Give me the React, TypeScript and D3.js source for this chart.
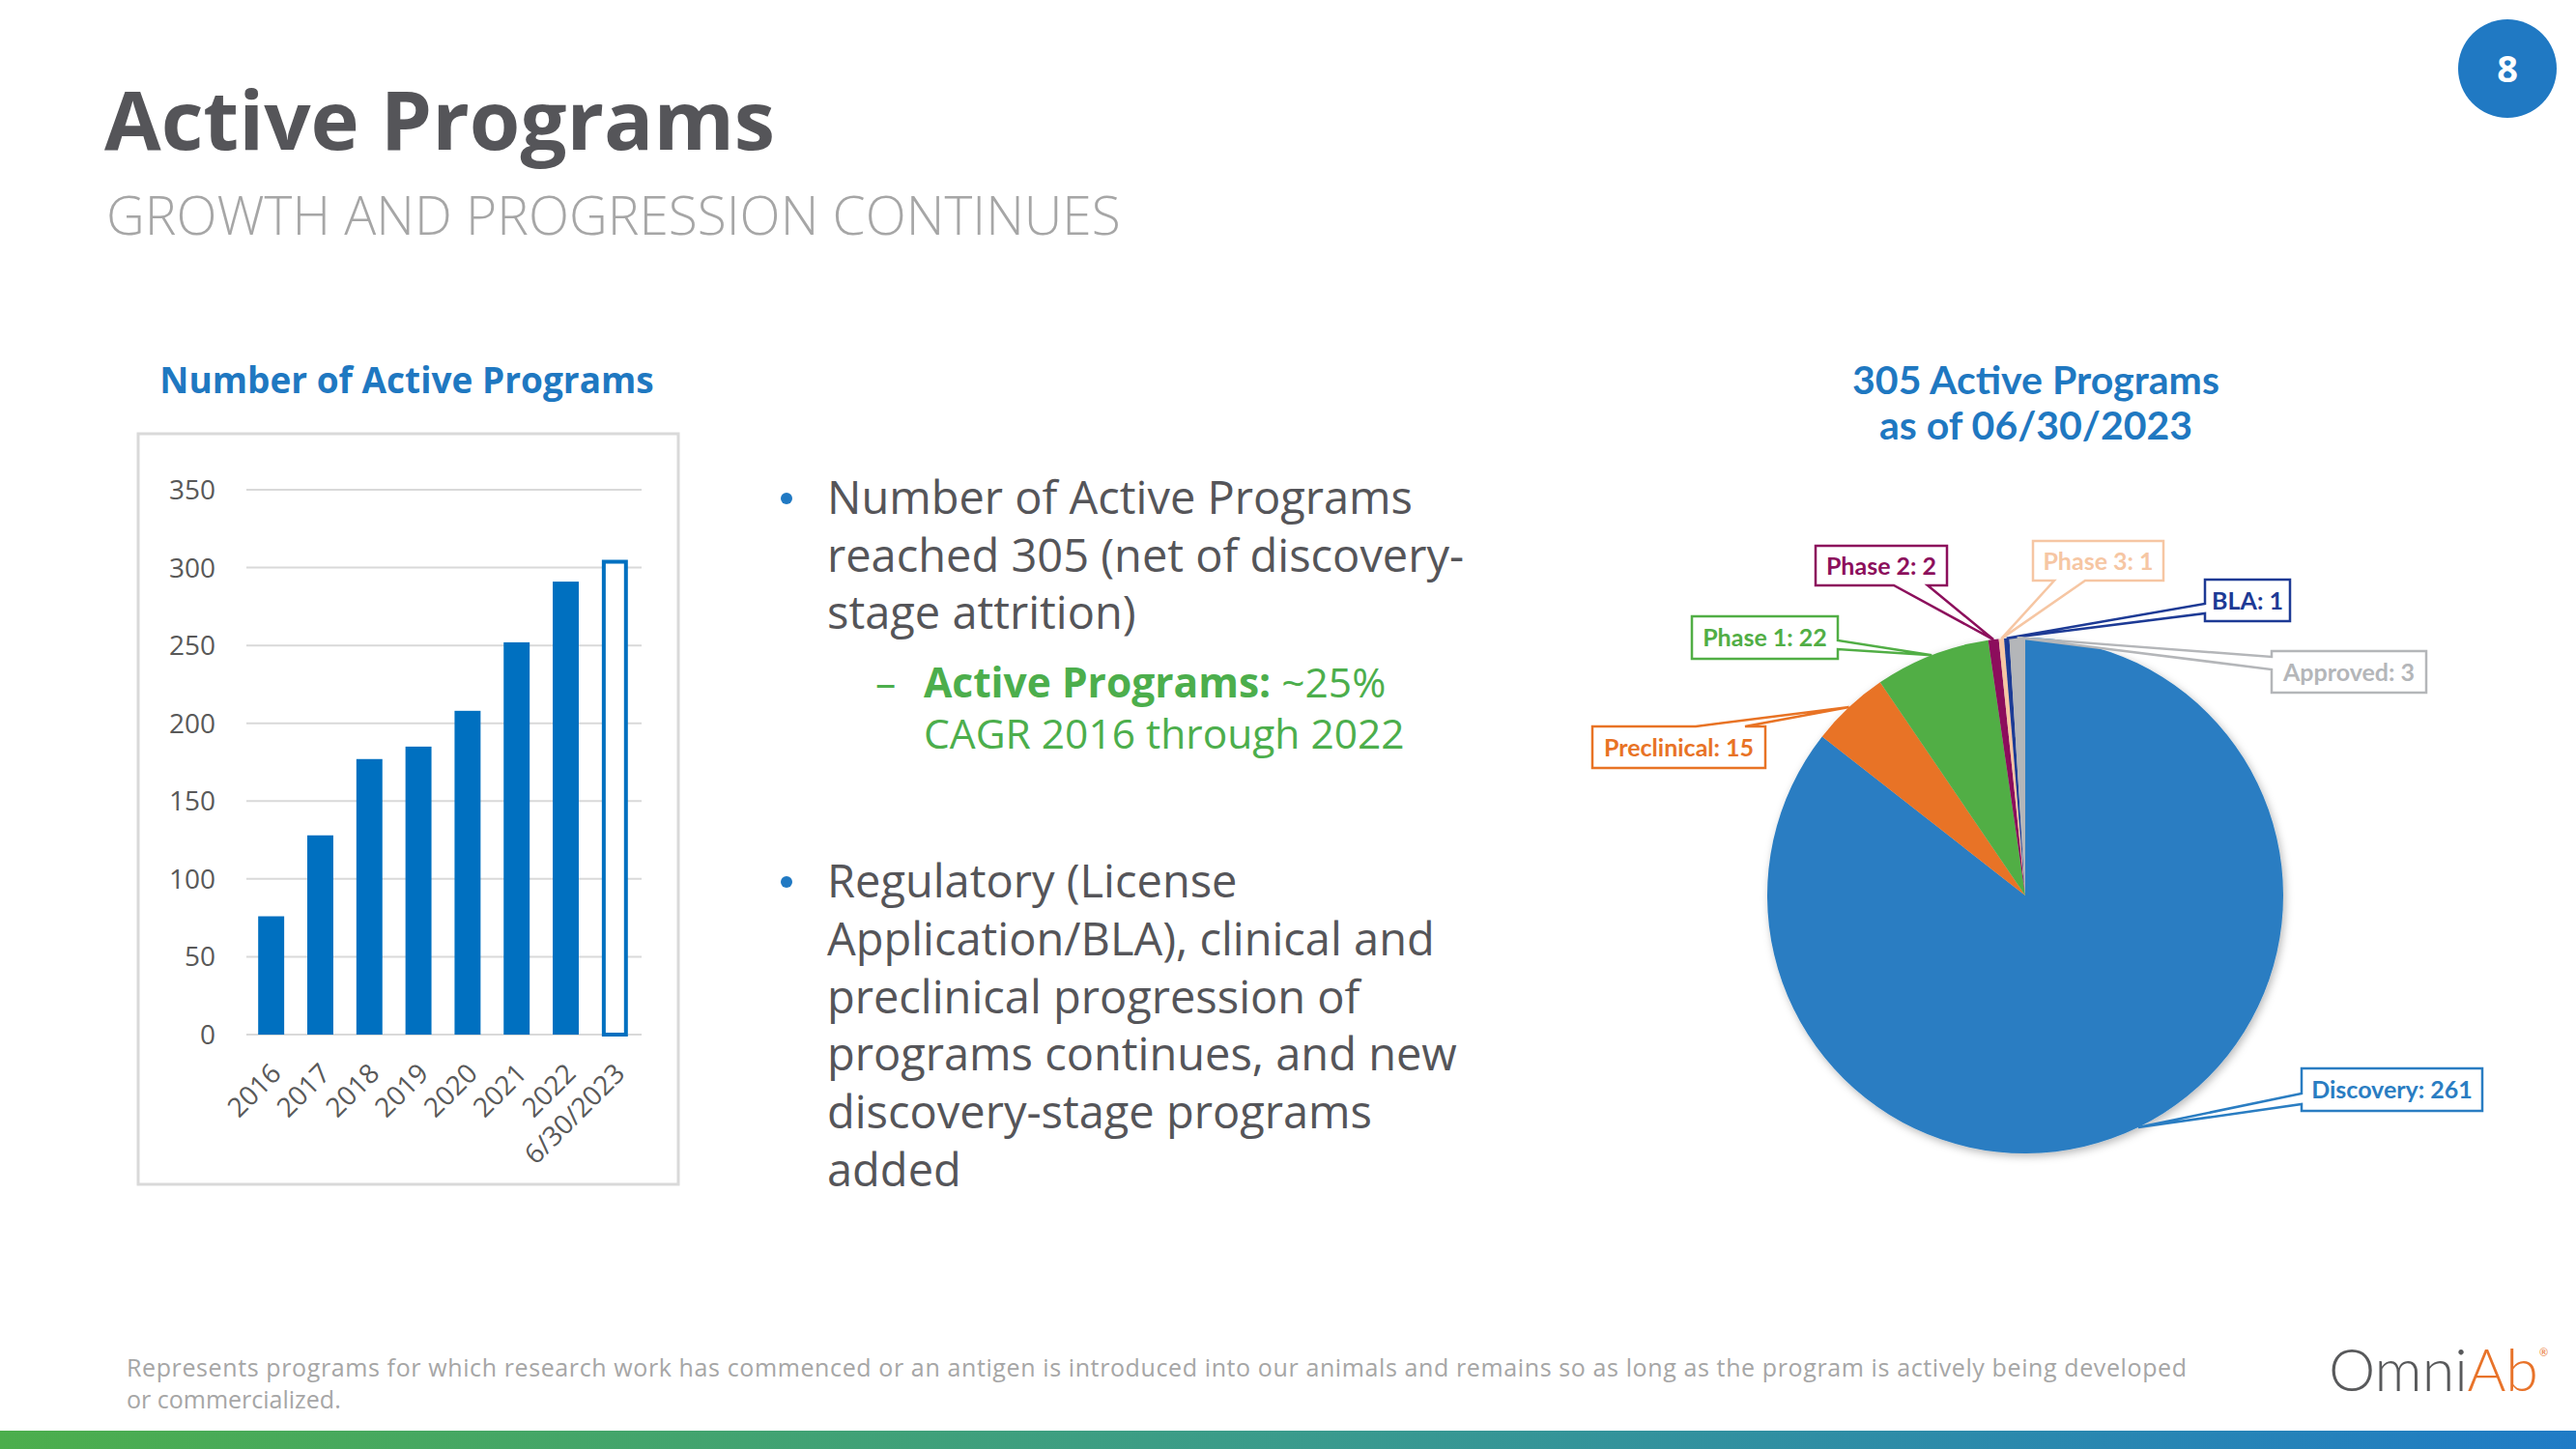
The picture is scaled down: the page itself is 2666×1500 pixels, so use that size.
import React from "react";
import * as d3 from "d3";

// ---------- data ----------
const categories = ["2016", "2017", "2018", "2019", "2020", "2021", "2022", "6/30/2023"];
const programCounts = [76, 128, 177, 185, 208, 252, 291, 305];
const yTicks = [0, 50, 100, 150, 200, 250, 300, 350];

const stageNames = ["Discovery", "Preclinical", "Phase 1", "Phase 2", "Phase 3", "BLA", "Approved"];
const stageValues = [261, 15, 22, 2, 1, 1, 3];
const stageColors = ["#2a7dc2", "#e87325", "#51ae45", "#8c0f5c", "#f6c6a3", "#1d3a95", "#b4b6b9"];

const bullet1Lines = ["Number of Active Programs", "reached 305 (net of discovery-", "stage attrition)"];
const bullet2Lines = [
  "Regulatory (License",
  "Application/BLA), clinical and",
  "preclinical progression of",
  "programs continues, and new",
  "discovery-stage programs",
  "added",
];

// ---------- layout (not data) ----------
const W = 2666;
const H = 1500;
const PIE_CX = 2096;
const PIE_CY = 927;
const PIE_R = 267;

type Side = "left" | "right" | "top" | "bottom";
// box geometry + where the pointer leaves the box (two offsets along the side)
const calloutLayout: { x: number; y: number; w: number; h: number; side: Side; a: number; b: number }[] = [
  { x: 2382, y: 1106, w: 187, h: 44, side: "left", a: 1132, b: 1143 }, // Discovery
  { x: 1648, y: 752, w: 179, h: 43, side: "top", a: 1755, b: 1806 }, // Preclinical
  { x: 1751, y: 638, w: 151, h: 44, side: "right", a: 663, b: 672 }, // Phase 1
  { x: 1879, y: 565, w: 136, h: 41, side: "bottom", a: 1960, b: 1995 }, // Phase 2
  { x: 2104, y: 560, w: 135, h: 41, side: "bottom", a: 2126, b: 2158 }, // Phase 3
  { x: 2282, y: 600, w: 88, h: 43, side: "left", a: 625, b: 635 }, // BLA
  { x: 2351, y: 674, w: 160, h: 43, side: "left", a: 680, b: 693 }, // Approved
];

function calloutPath(
  c: { x: number; y: number; w: number; h: number; side: Side; a: number; b: number },
  tip: [number, number]
) {
  const { x, y, w, h, side, a, b } = c;
  const x2 = x + w;
  const y2 = y + h;
  const lo = Math.min(a, b);
  const hi = Math.max(a, b);
  let p = `M${x},${y}`;
  if (side === "top") p += ` L${lo},${y} L${tip[0]},${tip[1]} L${hi},${y}`;
  p += ` L${x2},${y}`;
  if (side === "right") p += ` L${x2},${lo} L${tip[0]},${tip[1]} L${x2},${hi}`;
  p += ` L${x2},${y2}`;
  if (side === "bottom") p += ` L${hi},${y2} L${tip[0]},${tip[1]} L${lo},${y2}`;
  p += ` L${x},${y2}`;
  if (side === "left") p += ` L${x},${hi} L${tip[0]},${tip[1]} L${x},${lo}`;
  p += " Z";
  return p;
}

const BODY = "'Open Sans', 'Noto Sans', sans-serif";
const CAL = "Lato, 'Noto Sans', sans-serif";
const TEXT_GRAY = "#555559";
const BLUE = "#1f78c1";
const GREEN = "#4cae4c";

export default function App() {
  // ---- bar chart scales ----
  const y = d3.scaleLinear().domain([0, 350]).range([1071, 507]);
  const x = d3.scaleBand<string>().domain(categories).range([255, 662]).paddingInner(0.47).paddingOuter(0.24);
  const bw = x.bandwidth();

  // ---- pie ----
  const pieData = d3
    .pie<number>()
    .sort(null)
    .value((d) => d)(stageValues);
  const arc = d3.arc<d3.PieArcDatum<number>>().innerRadius(0).outerRadius(PIE_R);

  const tipFor = (d: d3.PieArcDatum<number>): [number, number] => {
    const a = (d.startAngle + d.endAngle) / 2;
    return [PIE_CX + PIE_R * Math.sin(a), PIE_CY - PIE_R * Math.cos(a)];
  };

  return (
    <svg
      width={W}
      height={H}
      viewBox={`0 0 ${W} ${H}`}
      style={{ position: "absolute", left: 0, top: 0, background: "#fff" }}
    >
      <defs>
        <linearGradient id="footerGrad" x1="0" x2="1" y1="0" y2="0">
          <stop offset="0" stopColor="#4cae4c" />
          <stop offset="0.5" stopColor="#3a9b8c" />
          <stop offset="1" stopColor="#1f7bc6" />
        </linearGradient>
        <filter id="pieShadow" x="-20%" y="-20%" width="140%" height="140%">
          <feDropShadow dx="2" dy="3" stdDeviation="4" floodColor="#000" floodOpacity="0.28" />
        </filter>
      </defs>

      <rect x={0} y={0} width={W} height={H} fill="#fff" />

      {/* Header */}
      <text x={108} y={155} fontFamily={BODY} fontWeight={700} fontSize={85} fill={TEXT_GRAY}>
        Active Programs
      </text>
      <text x={110} y={243} fontFamily={BODY} fontWeight={300} fontSize={55} fill="#a6a6a6">
        GROWTH AND PROGRESSION CONTINUES
      </text>

      {/* Page number */}
      <circle cx={2595} cy={71} r={51} fill="#2079c3" />
      <text x={2595} y={85} textAnchor="middle" fontFamily={BODY} fontWeight={700} fontSize={38} fill="#fff">
        8
      </text>

      {/* ---------- Bar chart ---------- */}
      <text x={421} y={407} textAnchor="middle" fontFamily={BODY} fontWeight={700} fontSize={37} fill={BLUE}>
        Number of Active Programs
      </text>
      <rect x={143} y={449} width={559} height={777} fill="#fff" stroke="#d9d9d9" strokeWidth={3} />

      {yTicks.map((t) => (
        <g key={t}>
          <line x1={255} x2={664} y1={y(t)} y2={y(t)} stroke="#d9d9d9" strokeWidth={2} />
          <text x={223} y={y(t) + 10} textAnchor="end" fontFamily={BODY} fontSize={28} fill="#595959">
            {t}
          </text>
        </g>
      ))}

      {categories.map((c, i) => {
        const last = i === categories.length - 1;
        const x0 = x(c)!;
        const top = y(programCounts[i]);
        return last ? (
          <rect
            key={c}
            x={x0 + 2}
            y={top + 2}
            width={bw - 4}
            height={y(0) - top - 2}
            fill="#fff"
            stroke="#0070c0"
            strokeWidth={4}
          />
        ) : (
          <rect key={c} x={x0} y={top} width={bw} height={y(0) - top} fill="#0070c0" />
        );
      })}

      {categories.map((c) => {
        const cx = x(c)! + bw / 2;
        return (
          <text
            key={c}
            transform={`translate(${cx + 12},${1113}) rotate(-45)`}
            textAnchor="end"
            fontFamily={BODY}
            fontSize={28}
            fill="#595959"
          >
            {c}
          </text>
        );
      })}

      {/* ---------- Bullets ---------- */}
      <circle cx={814} cy={516} r={6} fill="#2079c3" />
      {bullet1Lines.map((l, i) => (
        <text key={l} x={856} y={532 + i * 59.5} fontFamily={BODY} fontSize={47} fill={TEXT_GRAY}>
          {l}
        </text>
      ))}
      <text x={906} y={722} fontFamily={BODY} fontSize={42.5} fill={GREEN}>
        –
      </text>
      <text x={956} y={722} fontFamily={BODY} fontSize={42.5} fill={GREEN}>
        <tspan fontWeight={700}>Active Programs:</tspan>
        <tspan> ~25%</tspan>
      </text>
      <text x={956} y={775} fontFamily={BODY} fontSize={42.5} fill={GREEN}>
        CAGR 2016 through 2022
      </text>

      <circle cx={814} cy={913} r={6} fill="#2079c3" />
      {bullet2Lines.map((l, i) => (
        <text key={l} x={856} y={929 + i * 59.8} fontFamily={BODY} fontSize={47} fill={TEXT_GRAY}>
          {l}
        </text>
      ))}

      {/* ---------- Pie chart ---------- */}
      <text x={2107} y={408} textAnchor="middle" fontFamily={CAL} fontWeight={700} fontSize={41} fill={BLUE}>
        305 Active Programs
      </text>
      <text x={2107} y={455} textAnchor="middle" fontFamily={CAL} fontWeight={700} fontSize={41} fill={BLUE}>
        as of 06/30/2023
      </text>

      <g filter="url(#pieShadow)">
        {pieData.map((d, i) => (
          <path
            key={stageNames[i]}
            d={arc(d)!}
            transform={`translate(${PIE_CX},${PIE_CY})`}
            fill={stageColors[i]}
          />
        ))}
      </g>

      {pieData.map((d, i) => {
        const c = calloutLayout[i];
        const tip = tipFor(d);
        return (
          <g key={stageNames[i]}>
            <path d={calloutPath(c, tip)} fill="#fff" stroke={stageColors[i]} strokeWidth={2.5} />
            <text
              x={c.x + c.w / 2}
              y={c.y + c.h / 2 + 9}
              textAnchor="middle"
              fontFamily={CAL}
              fontWeight={700}
              fontSize={25}
              fill={stageColors[i]}
            >
              {`${stageNames[i]}: ${stageValues[i]}`}
            </text>
          </g>
        );
      })}

      {/* ---------- Footer ---------- */}
      <text x={131} y={1425} fontFamily={BODY} fontSize={25} fill="#a6a6a6" textLength={2132}>
        Represents programs for which research work has commenced or an antigen is introduced into our animals and
        remains so as long as the program is actively being developed
      </text>
      <text x={131} y={1458} fontFamily={BODY} fontSize={25} fill="#a6a6a6">
        or commercialized.
      </text>

      <text x={2410} y={1440} fontFamily={CAL} fontWeight={300} fontSize={61}>
        <tspan fill="#58595b">Omni</tspan>
        <tspan fill="#e8732a">Ab</tspan>
      </text>
      <text x={2628} y={1404} fontFamily={CAL} fontSize={11} fill="#e8732a">
        ®
      </text>

      <rect x={0} y={1481} width={W} height={19} fill="url(#footerGrad)" />
    </svg>
  );
}
